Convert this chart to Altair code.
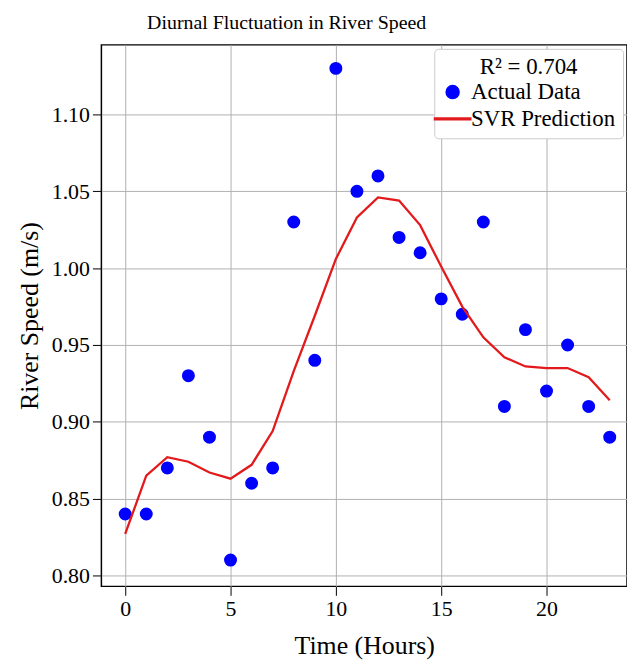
import altair as alt
import pandas as pd

hours = list(range(24))
actual = [0.84, 0.84, 0.87, 0.93, 0.89, 0.81, 0.86, 0.87, 1.03, 0.94, 1.13, 1.05,
          1.06, 1.02, 1.01, 0.98, 0.97, 1.03, 0.91, 0.96, 0.92, 0.95, 0.91, 0.89]
svr = [0.827, 0.865, 0.877, 0.874, 0.867, 0.863, 0.872, 0.894, 0.933, 0.969, 1.006, 1.033,
       1.046, 1.044, 1.028, 1.001, 0.975, 0.955, 0.942, 0.936, 0.935, 0.935, 0.929, 0.914]
series = ["Actual Data", "SVR Prediction"]
colors = ["#0000ff", "#e31a1c"]

df_a = pd.DataFrame({"hour": hours, "speed": actual, "series": series[0]})
df_s = pd.DataFrame({"hour": hours, "speed": svr, "series": series[1]})

FONT = "Liberation Serif"

x = alt.X("hour:Q", scale=alt.Scale(domain=[-1.13, 23.82], nice=False, zero=False),
          axis=alt.Axis(title="Time (Hours)", values=[0, 5, 10, 15, 20], format="d",
                        titlePadding=14))
y = alt.Y("speed:Q", scale=alt.Scale(domain=[0.7929, 1.1453], nice=False, zero=False),
          axis=alt.Axis(title="River Speed (m/s)", values=[0.80, 0.85, 0.90, 0.95, 1.00, 1.05, 1.10],
                        format=".2f", titlePadding=9))

color = alt.Color("series:N", scale=alt.Scale(domain=series, range=colors),
                  legend=alt.Legend(title="R² = 0.704", orient="top-right", offset=4))
shape = alt.Shape("series:N",
                  scale=alt.Scale(domain=series,
                                  range=["circle", "M-2.8,-0.12L2.8,-0.12L2.8,0.12L-2.8,0.12Z"]),
                  legend=alt.Legend(title="R² = 0.704", orient="top-right", offset=4))

line = alt.Chart(df_s).mark_line(strokeWidth=2.3, clip=True).encode(
    x=x, y=y, color=alt.Color("series:N", scale=alt.Scale(domain=series, range=colors), legend=None))
points = alt.Chart(df_a).mark_point(filled=True, size=170, opacity=1).encode(
    x=x, y=y, color=color, shape=shape)

chart = alt.layer(points, line).properties(
    width=529, height=545,
    padding={"left": 8, "top": 3, "right": 0, "bottom": 0},
    title=alt.TitleParams("Diurnal Fluctuation in River Speed", font=FONT, fontSize=20,
                          fontWeight="normal", color="black", offset=12, anchor="start",
                          frame="group", dx=46),
).configure_view(stroke="black", strokeWidth=1.5).configure_axis(
    labelFont=FONT, titleFont=FONT, labelFontSize=22, titleFontSize=26, titleFontWeight="normal",
    labelColor="black", titleColor="black", gridColor="#b0b0b0", gridWidth=1,
    tickColor="black", tickSize=9, domain=False, labelPadding=3,
).configure_legend(
    labelFont=FONT, titleFont=FONT, labelFontSize=23, titleFontSize=23, titleFontWeight="normal",
    labelColor="black", titleColor="black", strokeColor="#cccccc", fillColor="white",
    padding=7, cornerRadius=4, symbolSize=170, titleAnchor="middle", titleAlign="center",
    rowPadding=3, labelOffset=7, titlePadding=2,
)

chart.save("out.html", embed_options={"renderer": "svg", "actions": False})
